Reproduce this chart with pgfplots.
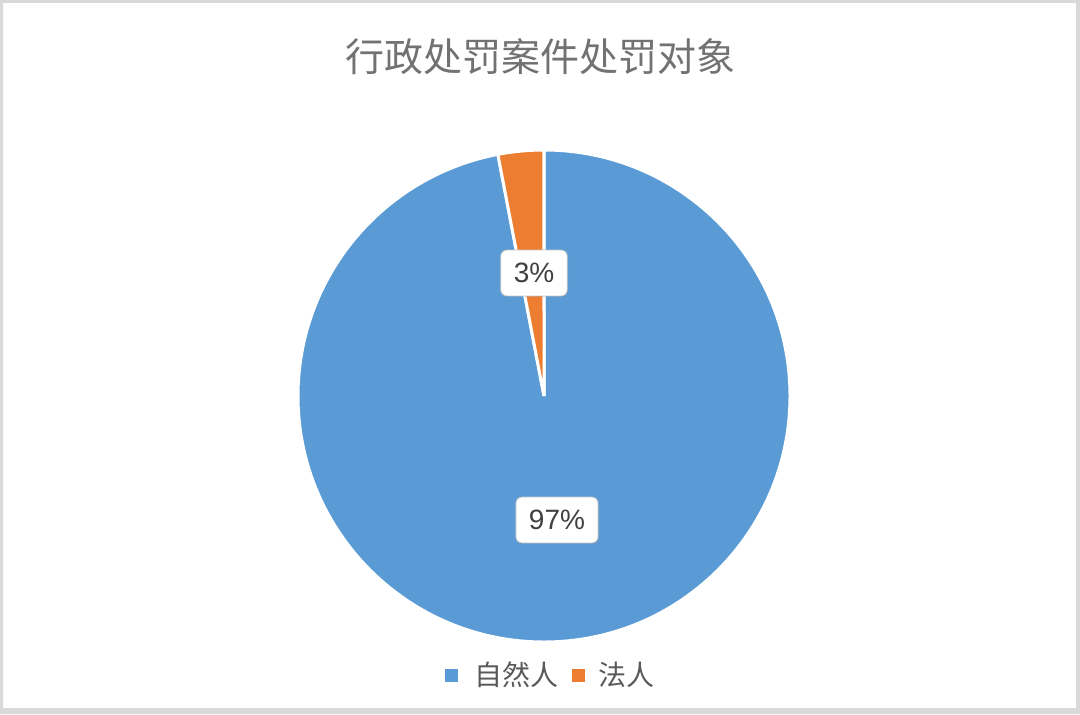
\documentclass[border=0pt]{standalone}
\usepackage{pgfplots}
\pgfplotsset{compat=1.18}
\usepackage{pgfplotstable}
\usepackage{fontspec}
\setmainfont{Liberation Sans}
\newfontfamily\cjk{Noto Sans CJK SC}
\usetikzlibrary{shadows}

\definecolor{pieblue}{HTML}{5B9BD5}
\definecolor{pieorange}{HTML}{ED7D31}
\definecolor{txtgray}{HTML}{595959}
\definecolor{lblgray}{HTML}{404040}
\definecolor{framegray}{HTML}{D9D9D9}

% share of each kind of offender
\pgfplotstableread{
value
97
3
}\piedata

\pgfplotstablegetelem{0}{value}\of\piedata \let\va\pgfplotsretval
\pgfplotstablegetelem{1}{value}\of\piedata \let\vb\pgfplotsretval
\pgfmathsetmacro\total{\va+\vb}
\pgfmathsetmacro\angA{90-360*(\va/\total)}
\pgfmathsetmacro\angB{\angA-360*(\vb/\total)}

\begin{document}
\begin{tikzpicture}
\begin{axis}[
  width=540pt, height=357pt, scale only axis,
  xmin=0, xmax=1080, ymin=0, ymax=714,
  hide axis, clip=false,
  /pgf/number format/assume math mode=true,
]
  % outer frame
  \fill[framegray, even odd rule] (axis cs:0,0) rectangle (axis cs:1080,714)
    (axis cs:3,6) rectangle (axis cs:1076,711);

  % title
  \node[text=txtgray!85, font=\cjk\fontsize{19.5pt}{22pt}\selectfont]
    at (axis cs:540,657) {行政处罚案件处罚对象};

  % pie slices
  \filldraw[fill=pieblue, draw=white, line width=1.5pt]
    (axis cs:544,318) -- ++(90:123pt) arc[start angle=90, end angle=\angA, radius=123pt] -- cycle;
  \filldraw[fill=pieorange, draw=white, line width=1.5pt]
    (axis cs:544,318) -- ++(\angA:123pt) arc[start angle=\angA, end angle=\angB, radius=123pt] -- cycle;

  % data labels
  \tikzset{lbl/.style={fill=white, draw=gray!45, rounded corners=3pt, text=lblgray,
    font=\fontsize{14pt}{16pt}\selectfont, inner xsep=6.5pt, inner ysep=6.5pt,
    drop shadow={opacity=0.15, shadow xshift=0.6pt, shadow yshift=-0.6pt}}}
  \node[lbl] at (axis cs:534,441) {\pgfmathprintnumber[assume math mode=true]{\vb}\%};
  \node[lbl] at (axis cs:557,194) {\pgfmathprintnumber[assume math mode=true]{\va}\%};

  % legend
  \fill[pieblue] (axis cs:445,32) rectangle (axis cs:458,45);
  \node[anchor=west, text=txtgray, font=\cjk\fontsize{14pt}{16pt}\selectfont, inner sep=0pt]
    at (axis cs:474,39) {自然人};
  \fill[pieorange] (axis cs:572,32) rectangle (axis cs:585,45);
  \node[anchor=west, text=txtgray, font=\cjk\fontsize{14pt}{16pt}\selectfont, inner sep=0pt]
    at (axis cs:598,39) {法人};
\end{axis}
\end{tikzpicture}
\end{document}
